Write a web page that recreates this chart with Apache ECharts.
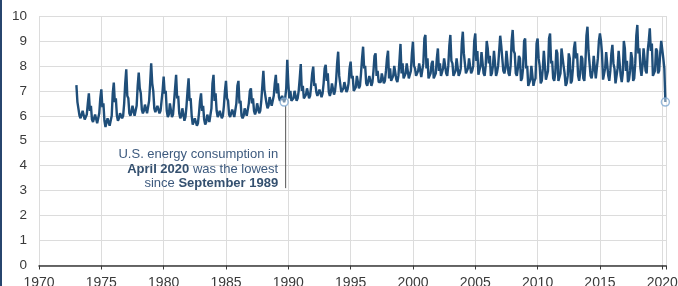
<!DOCTYPE html>
<html>
<head>
<meta charset="utf-8">
<script src="https://cdn.jsdelivr.net/npm/echarts@6/dist/echarts.min.js"></script>
<style>
  html, body { margin: 0; padding: 0; background: #fff; }
  #main { width: 678px; height: 286px; }
</style>
</head>
<body>
<div id="main"></div>
<script>
// monthly U.S. total energy consumption, quadrillion Btu
var startYear = 1973;
var y1973 = [7.23, 6.55, 6.6, 6.0, 5.9, 5.95, 6.2, 6.15, 5.85, 5.8, 6.05, 6.5];
var y1974 = [6.9, 6.2, 6.4, 5.85, 5.75, 5.8, 6.05, 6.0, 5.7, 5.75, 6.1, 6.7];
var y1975 = [7.06, 6.35, 6.5, 5.8, 5.55, 5.6, 5.9, 5.9, 5.6, 5.65, 6.0, 6.9];
var y1976 = [7.33, 6.55, 6.7, 6.0, 5.8, 5.9, 6.1, 6.1, 5.9, 6.0, 6.5, 7.3];
var y1977 = [7.86, 6.8, 6.7, 6.1, 6.0, 6.15, 6.4, 6.35, 6.0, 6.05, 6.4, 7.2];
var y1978 = [7.73, 7.1, 6.9, 6.25, 6.1, 6.2, 6.45, 6.4, 6.1, 6.15, 6.6, 7.3];
var y1979 = [8.1, 7.3, 7.0, 6.3, 6.15, 6.2, 6.4, 6.4, 6.1, 6.2, 6.6, 7.0];
var y1980 = [7.57, 6.9, 7.0, 6.2, 5.95, 6.05, 6.5, 6.45, 5.95, 6.05, 6.55, 7.1];
var y1981 = [7.64, 6.7, 6.8, 6.1, 5.9, 6.0, 6.3, 6.25, 5.8, 5.95, 6.4, 7.0];
var y1982 = [7.5, 6.6, 6.7, 6.0, 5.65, 5.7, 5.9, 5.9, 5.6, 5.7, 6.1, 6.6];
var y1983 = [6.9, 6.2, 6.4, 5.85, 5.65, 5.75, 6.05, 6.1, 5.75, 5.8, 6.3, 7.3];
var y1984 = [7.64, 6.6, 6.9, 6.2, 5.95, 6.05, 6.2, 6.25, 5.9, 6.0, 6.4, 7.0];
var y1985 = [7.4, 6.7, 6.6, 6.05, 5.95, 6.0, 6.25, 6.2, 5.95, 6.0, 6.5, 7.2];
var y1986 = [7.4, 6.5, 6.6, 6.0, 5.9, 6.0, 6.3, 6.25, 6.0, 6.05, 6.5, 7.0];
var y1987 = [7.1, 6.5, 6.7, 6.2, 6.05, 6.2, 6.5, 6.5, 6.1, 6.2, 6.6, 7.2];
var y1988 = [7.8, 7.05, 7.1, 6.5, 6.3, 6.4, 6.75, 6.8, 6.4, 6.45, 6.8, 7.3];
var y1989 = [7.64, 6.9, 7.3, 6.75, 6.6, 6.65, 6.8, 6.85, 6.55, 6.7, 7.1, 8.24];
var y1990 = [7.3, 6.7, 7.0, 6.6, 6.65, 6.7, 7.0, 7.0, 6.6, 6.7, 7.0, 7.5];
var y1991 = [8.07, 7.0, 7.2, 6.7, 6.75, 6.85, 7.1, 7.1, 6.7, 6.8, 7.2, 7.7];
var y1992 = [7.97, 7.2, 7.3, 6.95, 6.8, 6.85, 7.05, 7.05, 6.75, 6.9, 7.3, 7.9];
var y1993 = [8.04, 7.4, 7.7, 6.95, 6.8, 6.95, 7.3, 7.3, 6.85, 7.0, 7.4, 8.1];
var y1994 = [8.57, 7.6, 7.6, 6.95, 6.95, 7.1, 7.35, 7.35, 6.95, 7.05, 7.3, 7.9];
var y1995 = [8.17, 7.5, 7.6, 7.0, 6.97, 7.15, 7.6, 7.65, 7.1, 7.2, 7.7, 8.3];
var y1996 = [8.77, 7.9, 8.0, 7.3, 7.2, 7.25, 7.6, 7.6, 7.2, 7.35, 7.8, 8.4];
var y1997 = [8.5, 7.6, 7.8, 7.35, 7.3, 7.35, 7.7, 7.75, 7.3, 7.4, 7.8, 8.3];
var y1998 = [8.61, 7.5, 7.9, 7.4, 7.4, 7.6, 8.0, 8.0, 7.45, 7.35, 7.6, 8.2];
var y1999 = [8.88, 7.7, 8.1, 7.5, 7.45, 7.7, 8.1, 8.05, 7.5, 7.55, 7.8, 8.5];
var y2000 = [8.97, 8.0, 7.9, 7.6, 7.65, 7.8, 8.1, 8.15, 7.55, 7.6, 8.1, 9.1];
var y2001 = [9.24, 7.9, 8.3, 7.5, 7.5, 7.7, 8.1, 8.2, 7.5, 7.6, 7.7, 8.3];
var y2002 = [8.7, 7.8, 8.1, 7.6, 7.55, 7.9, 8.3, 8.3, 7.7, 7.6, 8.0, 8.8];
var y2003 = [9.24, 8.2, 8.1, 7.6, 7.55, 7.8, 8.3, 8.35, 7.6, 7.7, 7.9, 8.9];
var y2004 = [9.37, 8.5, 8.1, 7.7, 7.75, 7.9, 8.3, 8.25, 7.7, 7.8, 8.0, 9.0];
var y2005 = [9.3, 8.2, 8.6, 7.65, 7.7, 8.0, 8.55, 8.6, 7.7, 7.6, 8.0, 9.0];
var y2006 = [8.7, 8.1, 8.4, 7.6, 7.7, 8.0, 8.6, 8.55, 7.6, 7.75, 8.0, 8.6];
var y2007 = [9.21, 8.8, 8.3, 7.8, 7.7, 7.9, 8.6, 8.6, 7.7, 7.6, 8.0, 9.0];
var y2008 = [9.44, 8.6, 8.5, 7.7, 7.6, 7.9, 8.4, 8.3, 7.4, 7.5, 7.9, 9.0];
var y2009 = [9.1, 7.9, 8.0, 7.2, 7.2, 7.45, 8.0, 8.05, 7.2, 7.4, 7.5, 8.9];
var y2010 = [9.1, 8.3, 8.0, 7.3, 7.4, 7.9, 8.6, 8.6, 7.45, 7.4, 7.8, 9.1];
var y2011 = [9.3, 8.1, 8.2, 7.5, 7.4, 7.7, 8.65, 8.5, 7.4, 7.35, 7.7, 8.7];
var y2012 = [8.7, 8.0, 7.7, 7.2, 7.3, 7.6, 8.5, 8.3, 7.3, 7.4, 7.9, 8.7];
var y2013 = [8.97, 8.3, 8.5, 7.6, 7.4, 7.7, 8.4, 8.3, 7.5, 7.4, 8.1, 9.2];
var y2014 = [9.57, 8.6, 8.6, 7.6, 7.5, 7.8, 8.4, 8.35, 7.5, 7.45, 8.3, 9.0];
var y2015 = [9.3, 9.0, 8.5, 7.45, 7.5, 7.9, 8.55, 8.5, 7.6, 7.4, 7.8, 8.5];
var y2016 = [8.84, 8.1, 7.9, 7.3, 7.35, 7.9, 8.6, 8.6, 7.6, 7.35, 7.7, 9.0];
var y2017 = [8.7, 7.8, 8.2, 7.35, 7.45, 7.8, 8.55, 8.3, 7.4, 7.5, 8.1, 9.2];
var y2018 = [9.64, 8.5, 8.7, 7.9, 7.6, 8.0, 8.7, 8.7, 7.8, 7.7, 8.6, 9.0];
var y2019 = [9.51, 8.6, 8.9, 7.6, 7.6, 7.8, 8.7, 8.6, 7.7, 7.8, 8.5, 9.0];
var y2020 = [8.97, 8.3, 7.9, 6.55];

var years = [y1973, y1974, y1975, y1976, y1977, y1978, y1979, y1980, y1981, y1982,
    y1983, y1984, y1985, y1986, y1987, y1988, y1989, y1990, y1991, y1992,
    y1993, y1994, y1995, y1996, y1997, y1998, y1999, y2000, y2001, y2002,
    y2003, y2004, y2005, y2006, y2007, y2008, y2009, y2010, y2011, y2012,
    y2013, y2014, y2015, y2016, y2017, y2018, y2019, y2020];

// highlighted months: September 1989 and April 2020
var markYears = [1989, 2020];
var markMonths = [9, 4];

var xTicks = [1970, 1975, 1980, 1985, 1990, 1995, 2000, 2005, 2010, 2015, 2020];
var yTicks = [0, 1, 2, 3, 4, 5, 6, 7, 8, 9, 10];

var lineData = [];
for (var i = 0; i < years.length; i++) {
    for (var m = 0; m < years[i].length; m++) {
        lineData.push([startYear + i + m / 12, years[i][m]]);
    }
}
var pointData = [];
for (var k = 0; k < markYears.length; k++) {
    var yr = years[markYears[k] - startYear];
    pointData.push([markYears[k] + (markMonths[k] - 1) / 12, yr[markMonths[k] - 1]]);
}

var chart = echarts.init(document.getElementById('main'));
var font = '"Liberation Sans", Arial, sans-serif';

var option = {
    animation: false,
    textStyle: { fontFamily: font },
    grid: { left: 39, right: 12, top: 16, bottom: 20.5, outerBoundsMode: 'none', containLabel: false },
    xAxis: {
        type: 'value',
        min: xTicks[0],
        max: 2020.3,
        interval: 5,
        axisLine: { lineStyle: { color: '#3a3a3a', width: 1.5 } },
        axisTick: { length: 4, lineStyle: { color: '#3a3a3a' } },
        axisLabel: {
            margin: 11,
            color: '#3a3a3a',
            fontSize: 14,
            fontFamily: font,
            formatter: function (v) { return xTicks.indexOf(v) >= 0 ? String(v) : ''; }
        },
        splitLine: { show: true, lineStyle: { color: '#dcdcdc', width: 1 } }
    },
    yAxis: {
        type: 'value',
        min: yTicks[0],
        max: yTicks[yTicks.length - 1],
        interval: 1,
        axisLine: { show: false },
        axisTick: { show: false },
        axisLabel: { margin: 12, color: '#3a3a3a', fontSize: 13.5, fontFamily: font },
        splitLine: { lineStyle: { color: '#dcdcdc', width: 1 } }
    },
    series: [
        {
            type: 'line',
            data: lineData,
            showSymbol: false,
            lineStyle: { color: '#1f4e79', width: 2.4 },
            z: 3
        },
        {
            type: 'scatter',
            data: pointData,
            symbol: 'circle',
            symbolSize: 8,
            itemStyle: { color: 'rgba(255,255,255,0.5)', borderColor: '#7fa9d1', borderWidth: 1.5 },
            z: 4
        }
    ]
};
chart.setOption(option);

// leader line and note under the September 1989 point
var p1 = chart.convertToPixel({ gridIndex: 0 }, pointData[0]);
var p2 = chart.convertToPixel({ gridIndex: 0 }, [pointData[0][0], 3.1]);
chart.setOption({
    graphic: [
        {
            type: 'line',
            shape: { x1: p1[0] + 1.5, y1: p1[1] + 4, x2: p2[0] + 1.5, y2: p2[1] },
            style: { stroke: '#555', lineWidth: 1 },
            z: 2
        },
        {
            type: 'text',
            x: p1[0] - 6,
            y: 147.5,
            style: {
                text: 'U.S. energy consumption in\n{b|April 2020} was the lowest\nsince {b|September 1989}',
                align: 'right',
                fill: '#3d5a7e',
                font: '13px ' + font,
                lineHeight: 14.5,
                rich: {
                    b: { fontWeight: 'bold', fill: '#34506f', fontSize: 13, fontFamily: font, lineHeight: 14.5 }
                }
            },
            z: 5
        },
        {
            type: 'rect',
            shape: { x: 0, y: 0, width: 2, height: 286 },
            style: { fill: '#27456e' }
        }
    ]
});
</script>
</body>
</html>
